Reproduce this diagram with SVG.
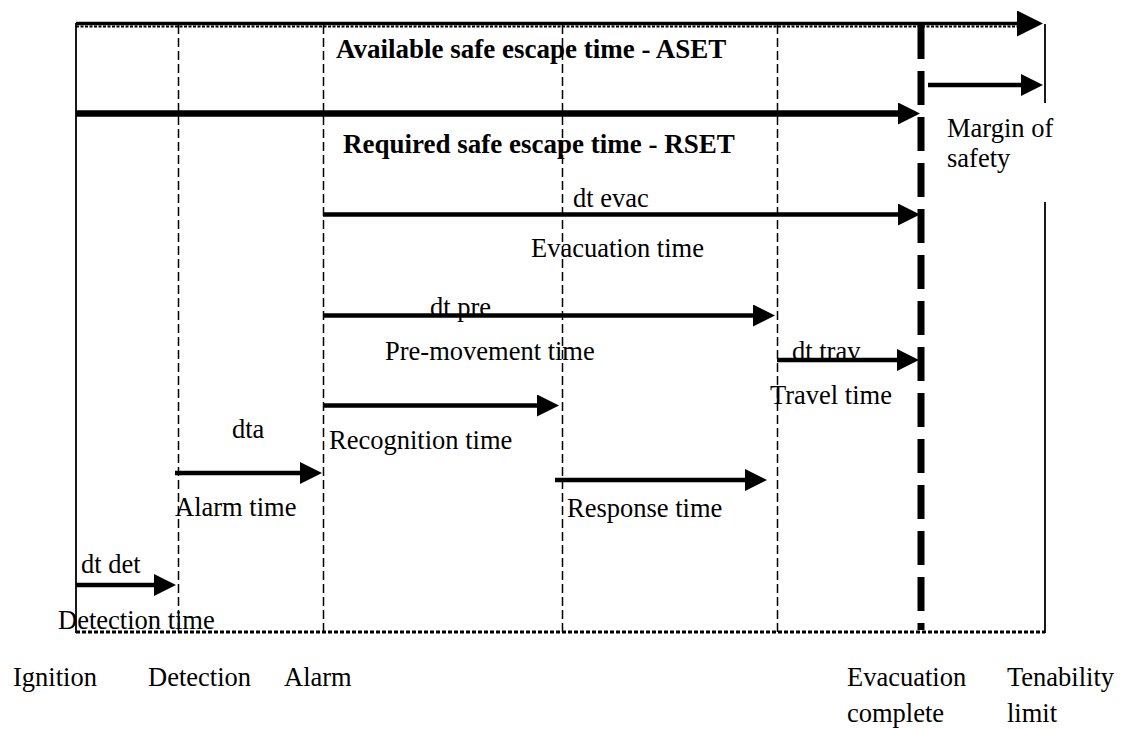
<svg xmlns="http://www.w3.org/2000/svg" width="1121" height="729" viewBox="0 0 1121 729">
<style>
text{font-family:"Liberation Serif","Times New Roman",serif;font-size:26.5px;fill:#000}
.b{font-weight:bold;font-size:27px}
.vd{stroke:#000;stroke-width:1.5;stroke-dasharray:9 4;fill:none}
.solid{stroke:#000;stroke-width:1.8;fill:none}
.ar{stroke:#000;stroke-width:4.5;fill:none;marker-end:url(#ah)}
</style>
<defs>
<marker id="ah" markerUnits="userSpaceOnUse" markerWidth="23" markerHeight="22" viewBox="0 0 23 22" refX="1" refY="11" orient="auto">
<path d="M0,0 L22,11 L0,22 z" fill="#000"/>
</marker>
<marker id="ahL" markerUnits="userSpaceOnUse" markerWidth="27" markerHeight="26" viewBox="0 0 27 26" refX="1" refY="13" orient="auto">
<path d="M0,0 L26,13 L0,26 z" fill="#000"/>
</marker>
</defs>
<rect width="1121" height="729" fill="#fff"/>
<g id="frame">
<line class="solid" x1="76" y1="23" x2="76" y2="633"/>
<line class="solid" x1="1045" y1="24" x2="1045" y2="103"/>
<line class="solid" x1="1045" y1="202" x2="1045" y2="633"/>
<line x1="76" y1="632" x2="1045" y2="632" stroke="#000" stroke-width="3" stroke-dasharray="4 2"/>
<line x1="76" y1="26.5" x2="1020" y2="26.5" stroke="#000" stroke-width="2" stroke-dasharray="3 1.5"/>
</g>
<g id="timelines">
<line class="vd" x1="178.5" y1="25" x2="178.5" y2="632"/>
<line class="vd" x1="323.5" y1="25" x2="323.5" y2="632"/>
<line class="vd" x1="562.5" y1="25" x2="562.5" y2="632"/>
<line class="vd" x1="777.5" y1="25" x2="777.5" y2="632"/>
<line x1="921" y1="25" x2="921" y2="630" stroke="#000" stroke-width="7" stroke-dasharray="34 12"/>
</g>
<g id="connectors">
<line x1="76" y1="23.5" x2="1018" y2="23.5" stroke="#000" stroke-width="3.5" marker-end="url(#ahL)"/>
<line x1="76" y1="113.5" x2="899" y2="113.5" stroke="#000" stroke-width="6.5" marker-end="url(#ah)"/>
<line class="ar" x1="928" y1="85" x2="1022" y2="85"/>
<line class="ar" x1="323" y1="214.5" x2="899" y2="214.5"/>
<line class="ar" x1="323" y1="315.5" x2="754" y2="315.5"/>
<line class="ar" x1="777" y1="360" x2="898" y2="360"/>
<line class="ar" x1="323" y1="405.5" x2="538" y2="405.5"/>
<line class="ar" x1="175" y1="473" x2="301" y2="473"/>
<line class="ar" x1="555" y1="480" x2="746" y2="480"/>
<line class="ar" x1="76" y1="585" x2="155" y2="585"/>
</g>
<g id="labels">
<text class="b" x="336" y="58">Available safe escape time - ASET</text>
<text class="b" x="343" y="153">Required safe escape time - RSET</text>
<text x="573" y="207">dt evac</text>
<text x="531" y="257">Evacuation time</text>
<text x="430" y="316">dt pre</text>
<text x="385" y="360">Pre-movement time</text>
<text x="792" y="360">dt trav</text>
<text x="770" y="404">Travel time</text>
<text x="329" y="449">Recognition time</text>
<text x="232" y="438">dta</text>
<text x="175" y="516">Alarm time</text>
<text x="567" y="517">Response time</text>
<text x="81" y="573">dt det</text>
<text x="58" y="629">Detection time</text>
<text x="947" y="137">Margin of</text>
<text x="947" y="167">safety</text>
</g>
<g id="events">
<text x="13" y="686">Ignition</text>
<text x="148" y="686">Detection</text>
<text x="284" y="686">Alarm</text>
<text x="847" y="686">Evacuation</text>
<text x="847" y="722">complete</text>
<text x="1007" y="686">Tenability</text>
<text x="1007" y="722">limit</text>
</g>
</svg>
